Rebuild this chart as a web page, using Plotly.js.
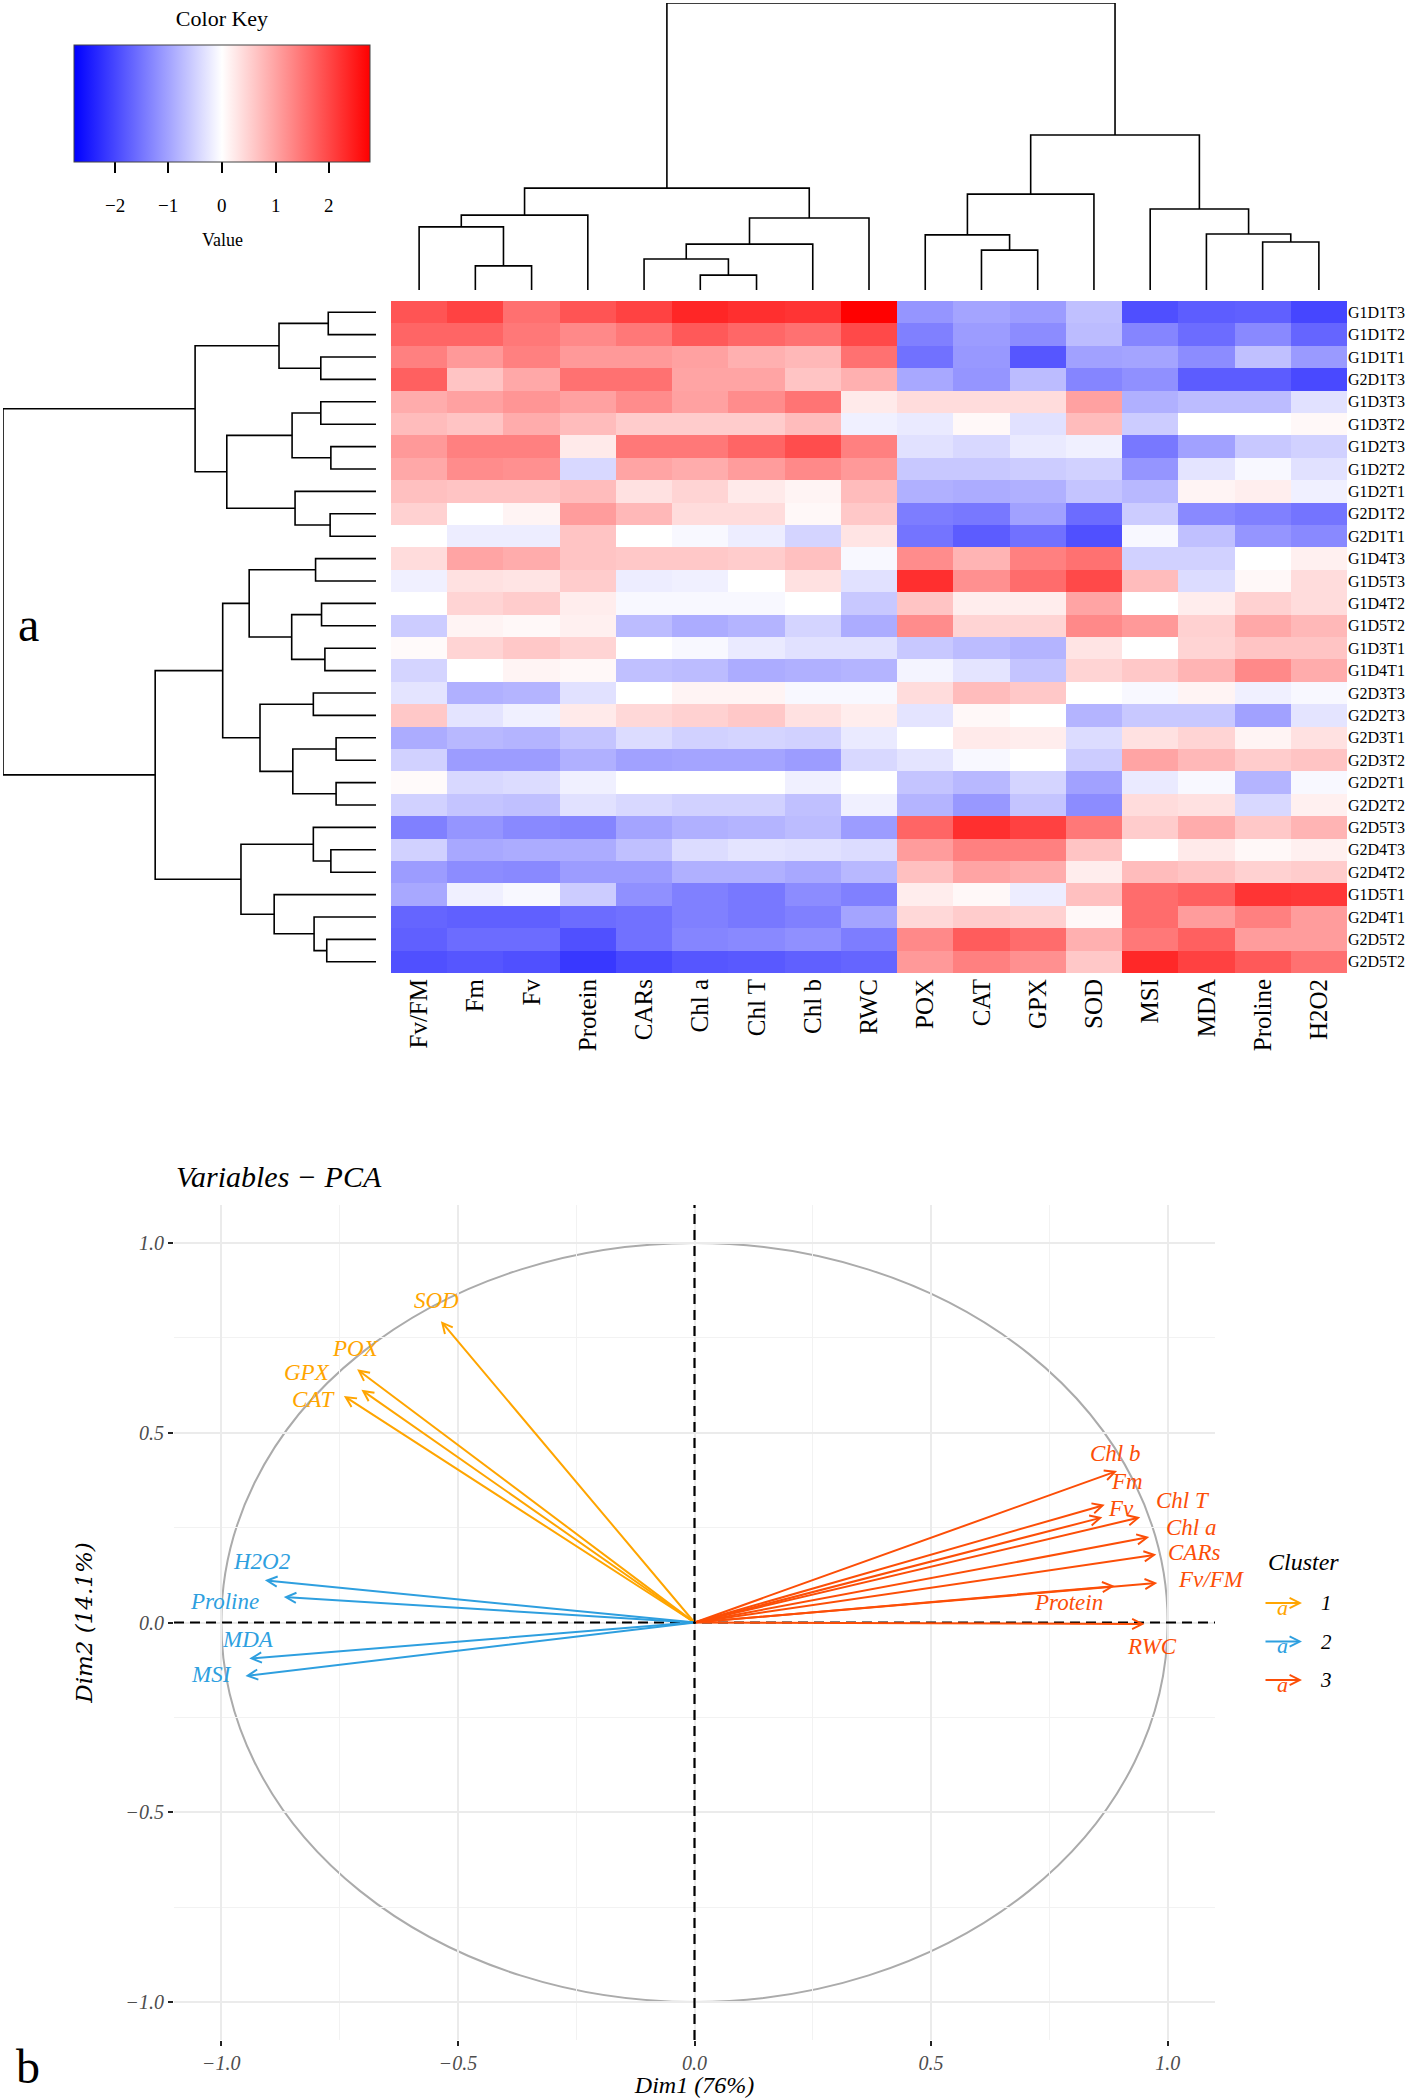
<!DOCTYPE html>
<html><head><meta charset="utf-8">
<script src="https://cdn.plot.ly/plotly-3.0.1.min.js"></script>
<style>html,body{margin:0;padding:0;background:#fff}#chart{width:1416px;height:2098px}</style>
</head><body><div id="chart"></div>
<script>
// ---------- Heatmap data ----------
const colLabels = ['Fv/FM','Fm','Fv','Protein','CARs','Chl a','Chl T','Chl b','RWC','POX','CAT','GPX','SOD','MSI','MDA','Proline','H2O2'];
const rowLabels = ['G1D1T3','G1D1T2','G1D1T1','G2D1T3','G1D3T3','G1D3T2','G1D2T3','G1D2T2','G1D2T1','G2D1T2','G2D1T1',
  'G1D4T3','G1D5T3','G1D4T2','G1D5T2','G1D3T1','G1D4T1','G2D3T3','G2D2T3','G2D3T1','G2D3T2','G2D2T1','G2D2T2',
  'G2D5T3','G2D4T3','G2D4T2','G1D5T1','G2D4T1','G2D5T2','G2D5T2'];
const keyTicks = [-2, -1, 0, 1, 2];

const row_G1D1T3 = [1.85, 2.05, 1.55, 1.85, 2.05, 2.35, 2.25, 2.2, 2.75, -1.15, -0.98, -1.07, -0.68, -1.9, -1.75, -1.72, -2.0];
const row_G1D1T2 = [1.67, 1.67, 1.46, 1.28, 1.46, 1.8, 1.65, 1.54, 1.97, -1.37, -1.07, -1.24, -0.72, -1.32, -1.59, -1.28, -1.67];
const row_G1D1T1 = [1.37, 1.1, 1.37, 1.1, 1.1, 1.02, 0.85, 0.77, 1.54, -1.54, -1.11, -1.83, -1.02, -0.98, -1.24, -0.68, -1.09];
const row_G2D1T3 = [1.72, 0.64, 0.94, 1.54, 1.54, 0.98, 0.98, 0.64, 0.85, -0.94, -1.15, -0.72, -1.32, -1.2, -1.76, -1.76, -1.97];
const row_G1D3T3 = [0.9, 1.02, 1.15, 1.02, 1.24, 1.02, 1.24, 1.5, 0.23, 0.38, 0.38, 0.38, 1.02, -0.85, -0.72, -0.72, -0.33];
const row_G1D3T2 = [0.72, 0.64, 0.9, 0.72, 0.55, 0.55, 0.55, 0.72, -0.16, -0.23, 0.08, -0.33, 0.72, -0.55, 0, 0, 0.08];
const row_G1D2T3 = [1.1, 1.37, 1.37, 0.23, 1.46, 1.46, 1.67, 1.93, 1.37, -0.33, -0.42, -0.23, -0.16, -1.46, -1.02, -0.6, -0.5];
const row_G1D2T2 = [0.94, 1.24, 1.2, -0.42, 0.98, 0.9, 1.07, 1.28, 1.1, -0.6, -0.6, -0.55, -0.5, -1.15, -0.29, -0.08, -0.33];
const row_G1D2T1 = [0.68, 0.64, 0.64, 0.72, 0.33, 0.47, 0.23, 0.12, 0.72, -0.85, -0.9, -0.85, -0.64, -0.77, 0.12, 0.18, -0.16];
const row_G2D1T2 = [0.5, 0, 0.12, 1.07, 0.77, 0.38, 0.38, 0.08, 0.6, -1.41, -1.46, -1.02, -1.59, -0.55, -1.28, -1.37, -1.5];
const row_G2D1T1 = [0, -0.2, -0.2, 0.64, 0, -0.08, -0.2, -0.47, 0.29, -1.5, -1.76, -1.54, -1.89, -0.08, -0.68, -1.15, -1.28];
const row_G1D4T3 = [0.38, 0.98, 0.9, 0.64, 0.6, 0.6, 0.55, 0.68, -0.08, 1.24, 0.81, 1.37, 1.54, -0.5, -0.5, 0, 0.16];
const row_G1D5T3 = [-0.16, 0.33, 0.29, 0.55, -0.2, -0.16, 0, 0.33, -0.33, 2.25, 1.2, 1.59, 1.97, 0.72, -0.38, 0.08, 0.38];
const row_G1D4T2 = [0, 0.47, 0.55, 0.2, -0.08, -0.08, -0.08, 0, -0.6, 0.64, 0.2, 0.2, 0.98, 0, 0.2, 0.5, 0.38];
const row_G1D5T2 = [-0.55, 0.12, 0.08, 0.16, -0.72, -0.9, -0.81, -0.47, -0.9, 1.24, 0.47, 0.47, 1.28, 1.1, 0.5, 0.94, 0.77];
const row_G1D3T1 = [0.05, 0.47, 0.6, 0.47, 0, -0.08, -0.23, -0.33, -0.33, -0.6, -0.72, -0.81, 0.29, 0, 0.47, 0.64, 0.64];
const row_G1D4T1 = [-0.47, 0, 0.12, 0.08, -0.68, -0.72, -0.9, -0.85, -0.81, -0.12, -0.29, -0.64, 0.47, 0.6, 0.81, 1.28, 0.9];
const row_G2D3T3 = [-0.29, -0.85, -0.81, -0.33, 0, 0.12, 0.12, -0.08, -0.08, 0.38, 0.72, 0.6, 0, -0.08, 0.12, -0.16, -0.08];
const row_G2D2T3 = [0.6, -0.29, -0.16, 0.23, 0.42, 0.5, 0.6, 0.33, 0.2, -0.29, 0.08, 0, -0.81, -0.6, -0.6, -1.02, -0.29];
const row_G2D3T1 = [-0.9, -0.77, -0.81, -0.64, -0.38, -0.5, -0.47, -0.5, -0.23, 0, 0.23, 0.2, -0.38, 0.33, 0.47, 0.12, 0.33];
const row_G2D3T2 = [-0.5, -1.07, -1.07, -0.85, -1.02, -0.98, -0.98, -1.07, -0.42, -0.29, -0.08, 0, -0.55, 0.98, 0.77, 0.55, 0.64];
const row_G2D2T1 = [0.05, -0.42, -0.38, -0.16, 0, 0, 0, -0.16, 0, -0.64, -0.77, -0.47, -1.02, -0.23, -0.08, -0.81, -0.08];
const row_G2D2T2 = [-0.5, -0.64, -0.68, -0.33, -0.42, -0.5, -0.5, -0.68, -0.16, -0.81, -1.11, -0.64, -1.24, 0.38, 0.33, -0.42, 0.16];
const row_G2D5T3 = [-1.37, -1.15, -1.28, -1.32, -0.98, -0.85, -0.81, -0.72, -1.07, 1.67, 2.25, 2.06, 1.46, 0.55, 0.9, 0.6, 0.81];
const row_G2D4T3 = [-0.5, -0.94, -0.9, -0.9, -0.68, -0.38, -0.29, -0.33, -0.38, 1.07, 1.37, 1.37, 0.64, 0, 0.23, 0.08, 0.16];
const row_G2D4T2 = [-1.07, -1.24, -1.28, -1.07, -1.07, -0.85, -0.85, -0.94, -0.77, 0.68, 0.98, 0.9, 0.2, 0.72, 0.64, 0.5, 0.55];
const row_G1D5T1 = [-0.94, -0.16, -0.08, -0.55, -1.2, -1.37, -1.46, -1.24, -1.37, 0.2, 0.08, -0.2, 0.68, 1.59, 1.72, 2.2, 2.15];
const row_G2D4T1 = [-1.67, -1.72, -1.72, -1.59, -1.54, -1.37, -1.46, -1.37, -0.98, 0.42, 0.55, 0.5, 0.08, 1.59, 1.07, 1.37, 1.07];
const row_G2D5T2a = [-1.72, -1.59, -1.59, -1.89, -1.54, -1.32, -1.28, -1.2, -1.41, 1.28, 1.76, 1.59, 0.85, 1.46, 1.72, 1.07, 1.07];
const row_G2D5T2b = [-1.89, -1.83, -1.89, -2.15, -1.97, -1.83, -1.8, -1.72, -1.67, 1.1, 1.37, 1.2, 0.6, 2.33, 2.06, 1.8, 1.54];

const heatRows = [row_G1D1T3,row_G1D1T2,row_G1D1T1,row_G2D1T3,row_G1D3T3,row_G1D3T2,row_G1D2T3,row_G1D2T2,row_G1D2T1,
  row_G2D1T2,row_G2D1T1,row_G1D4T3,row_G1D5T3,row_G1D4T2,row_G1D5T2,row_G1D3T1,row_G1D4T1,row_G2D3T3,row_G2D2T3,
  row_G2D3T1,row_G2D3T2,row_G2D2T1,row_G2D2T2,row_G2D5T3,row_G2D4T3,row_G2D4T2,row_G1D5T1,row_G2D4T1,row_G2D5T2a,row_G2D5T2b];

// Dendrogram merges (hclust style: negative = leaf index+1, positive = earlier merge), height
const colMerge = [
  [-6,-7,0.52],[-2,-3,0.84],[-5,1,1.08],[-11,-12,1.39],[3,-8,1.60],[-16,-17,1.67],[-10,4,1.92],[-15,6,1.95],
  [-1,2,2.20],[5,-9,2.51],[9,-4,2.61],[-14,8,2.82],[7,-13,3.34],[11,10,3.55],[13,12,5.40],[14,15,10]
];
const rowMerge = [
  [-1,-2,1.28],[-3,-4,1.48],[-5,-6,1.48],[-7,-8,1.21],[-10,-11,1.23],[-12,-13,1.62],[-14,-15,1.46],[-16,-17,1.37],
  [-18,-19,1.68],[-20,-21,1.07],[-22,-23,1.07],[-25,-26,1.21],[-29,-30,1.32],
  [1,2,2.60],[3,4,2.25],[-9,5,2.17],[15,16,4.00],[14,17,4.85],
  [7,8,2.26],[6,19,3.40],[10,11,2.23],[9,21,3.11],[20,22,4.11],
  [-24,12,1.68],[-28,13,1.66],[-27,25,2.73],[24,26,3.62],[23,27,5.92],[18,28,10]
];

// ---------- PCA data ----------
const pcaVars    = ['SOD','POX','GPX','CAT','H2O2','Proline','MDA','MSI','Chl b','Fm','Fv','Chl T','Chl a','CARs','Fv/FM','Protein','RWC'];
const pcaDim1    = [-0.536,-0.713,-0.704,-0.741,-0.908,-0.868,-0.941,-0.949,0.893,0.867,0.862,0.942,0.961,0.976,0.978,0.888,0.951];
const pcaDim2    = [0.794,0.667,0.613,0.597,0.111,0.067,-0.095,-0.141,0.399,0.310,0.277,0.277,0.225,0.179,0.104,0.096,-0.004];
const pcaCluster = [1,1,1,1,2,2,2,2,3,3,3,3,3,3,3,3,3];
const clusterNames = ['1','2','3'];

// ---------- styles / positions ----------
const W = 1416, H = 2098;
const px = v => v / W;
const py = v => 1 - v / H;
const clusterColors = ['#FFA500', '#2E9FDF', '#FC4E07'];
const labelOffsets = [[-4,-21],[-2,-21],[-54,-17],[-30,4],[-3,-19],[-59,4],[-1,-19],[-34,-2],
  [-2,-18],[22,-23],[19,-9],[43,-17],[42,-10],[38,-2],[54,-4],[-46,16],[7,22]];
const serif = 'Liberation Serif, Times New Roman, serif';
const zLim = 2.76;
const keyLeft = 74, keyWidth = 296;

function dendro(merge, orient) {
  const pos = [], hgt = [], xs = [], ys = [];
  const node = c => c < 0 ? {p: -c - 1, h: 0} : {p: pos[c - 1], h: hgt[c - 1]};
  merge.forEach((m, i) => {
    const a = node(m[0]), b = node(m[1]), h = m[2];
    pos[i] = (a.p + b.p) / 2; hgt[i] = h;
    const P = [a.p, a.p, b.p, b.p], Hh = [a.h, h, h, b.h];
    if (orient === 'v') { xs.push(...P, null); ys.push(...Hh, null); }
    else { xs.push(...Hh, null); ys.push(...P, null); }
  });
  return {x: xs, y: ys};
}

const colIdx = colLabels.map((_, i) => i);
const rowIdx = rowLabels.map((_, i) => i);
const cd = dendro(colMerge, 'v');
const rd = dendro(rowMerge, 'h');

const traces = [
  {
    type: 'heatmap', x: colIdx, y: rowIdx, z: heatRows, xaxis: 'x', yaxis: 'y',
    zmin: -zLim, zmax: zLim,
    colorscale: [[0, 'rgb(0,0,255)'], [0.5, 'rgb(255,255,255)'], [1, 'rgb(255,0,0)']],
    hoverinfo: 'skip',
    colorbar: {
      orientation: 'h', x: px(keyLeft + keyWidth / 2), xanchor: 'center', y: py(20), yanchor: 'top',
      len: keyWidth, lenmode: 'pixels', thickness: 117, thicknessmode: 'pixels',
      outlinewidth: 1, outlinecolor: '#444', xpad: 0, ypad: 0,
      tickvals: keyTicks, ticks: 'outside', ticklen: 11, tickwidth: 2, tickcolor: '#000',
      showticklabels: false,
      title: {text: 'Color Key', side: 'top', font: {family: serif, size: 22, color: '#000'}}
    }
  },
  {type: 'scatter', mode: 'lines', x: cd.x, y: cd.y, xaxis: 'x2', yaxis: 'y2',
   line: {color: '#000', width: 1.6}, hoverinfo: 'skip', showlegend: false},
  {type: 'scatter', mode: 'lines', x: rd.x, y: rd.y, xaxis: 'x3', yaxis: 'y3',
   line: {color: '#000', width: 1.6}, hoverinfo: 'skip', showlegend: false},
  {type: 'scatter', mode: 'markers', x: pcaDim1, y: pcaDim2, xaxis: 'x4', yaxis: 'y4',
   marker: {opacity: 0}, hoverinfo: 'skip', showlegend: false}
];

const annotations = [];
const tfont = (size, color, italic) => ({family: serif, size: size, color: color || '#000', style: italic ? 'italic' : 'normal'});

// color key tick labels
keyTicks.forEach(t => {
  annotations.push({xref: 'paper', yref: 'paper', x: px(keyLeft + keyWidth / 2 + t * keyWidth / (2 * zLim)), y: py(205),
    text: t < 0 ? '\u2212' + Math.abs(t) : String(t), showarrow: false, xanchor: 'center', yanchor: 'middle',
    font: tfont(19, '#000', false)});
});
annotations.push({xref: 'paper', yref: 'paper', x: px(keyLeft + keyWidth / 2), y: py(240), text: 'Value', showarrow: false,
  xanchor: 'center', yanchor: 'middle', font: tfont(18, '#000', false)});

pcaVars.forEach((v, i) => {
  const c = clusterColors[pcaCluster[i] - 1];
  annotations.push({xref: 'x4', yref: 'y4', axref: 'x4', ayref: 'y4', x: pcaDim1[i], y: pcaDim2[i], ax: 0, ay: 0,
    text: '', showarrow: true, arrowhead: 5, arrowsize: 1, arrowwidth: 2, arrowcolor: c, standoff: 0, startstandoff: 0});
});
pcaVars.forEach((v, i) => {
  const c = clusterColors[pcaCluster[i] - 1];
  annotations.push({xref: 'x4', yref: 'y4', x: pcaDim1[i], y: pcaDim2[i], text: v, showarrow: false,
    xshift: labelOffsets[i][0], yshift: -labelOffsets[i][1], xanchor: 'center', yanchor: 'middle',
    font: tfont(23, c, true)});
});

// legend (Cluster)
annotations.push({xref: 'paper', yref: 'paper', x: px(1303), y: py(1562), text: 'Cluster', showarrow: false,
  xanchor: 'center', yanchor: 'middle', font: tfont(24, '#000', true)});
clusterNames.forEach((n, k) => {
  const yy = 1603 + k * 38.5;
  annotations.push({xref: 'paper', yref: 'paper', x: px(1302), y: py(yy), ax: -38, ay: 0, text: '', showarrow: true,
    arrowhead: 5, arrowsize: 1, arrowwidth: 2, arrowcolor: clusterColors[k], standoff: 0});
  annotations.push({xref: 'paper', yref: 'paper', x: px(1282), y: py(yy + 4), text: 'a', showarrow: false,
    xanchor: 'center', yanchor: 'middle', font: tfont(22, clusterColors[k], true)});
  annotations.push({xref: 'paper', yref: 'paper', x: px(1326), y: py(yy), text: n, showarrow: false,
    xanchor: 'center', yanchor: 'middle', font: tfont(21, '#000', true)});
});

// titles / panel letters
annotations.push({xref: 'paper', yref: 'paper', x: px(174), y: py(1176), text: 'Variables \u2212 PCA', showarrow: false,
  xanchor: 'left', yanchor: 'middle', font: tfont(30, '#000', true)});
annotations.push({xref: 'paper', yref: 'paper', x: px(28), y: py(625), text: 'a', showarrow: false,
  xanchor: 'center', yanchor: 'middle', font: tfont(48, '#000', false)});
annotations.push({xref: 'paper', yref: 'paper', x: px(28), y: py(2066), text: 'b', showarrow: false,
  xanchor: 'center', yanchor: 'middle', font: tfont(48, '#000', false)});

const shapes = [
  {type: 'circle', xref: 'x4', yref: 'y4', x0: -1, y0: -1, x1: 1, y1: 1, line: {color: '#ababab', width: 2}, layer: 'below'},
  {type: 'line', xref: 'x4', yref: 'y4', x0: -1.1, x1: 1.1, y0: 0, y1: 0, line: {color: '#000', width: 2.2, dash: '10px,6px'}, layer: 'above'},
  {type: 'line', xref: 'x4', yref: 'y4', x0: 0, x1: 0, y0: -1.1, y1: 1.1, line: {color: '#000', width: 2.2, dash: '10px,6px'}, layer: 'above'}
];

const hidden = {visible: false, showgrid: false, zeroline: false, fixedrange: true};
const pcaAxis = (dom, anchor) => ({
  domain: dom, anchor: anchor, range: [-1.1, 1.1], zeroline: false, showline: false,
  tickvals: [-1, -0.5, 0, 0.5, 1], tickformat: '.1f', ticks: 'outside', ticklen: 5, tickwidth: 2, tickcolor: '#222',
  tickfont: tfont(20, '#4d4d4d', true), showgrid: true, gridcolor: '#ebebeb', gridwidth: 2,
  minor: {tickvals: [-0.75, -0.25, 0.25, 0.75], showgrid: true, gridcolor: '#f2f2f2', gridwidth: 1, ticks: ''}
});

const layout = {
  width: W, height: H, margin: {l: 0, r: 0, t: 0, b: 0}, paper_bgcolor: '#fff', plot_bgcolor: 'rgba(0,0,0,0)',
  showlegend: false, font: {family: serif, color: '#000'},
  xaxis: {domain: [px(391), px(1347)], anchor: 'y', range: [-0.5, 16.5], tickvals: colIdx, ticktext: colLabels,
    tickangle: -90, ticks: '', showgrid: false, zeroline: false, showline: false, tickfont: tfont(25, '#000', false)},
  yaxis: {domain: [py(973), py(301)], anchor: 'x', range: [29.5, -0.5], tickvals: rowIdx, ticktext: rowLabels,
    side: 'right', ticks: '', showgrid: false, zeroline: false, showline: false, tickfont: tfont(16, '#000', false)},
  xaxis2: Object.assign({domain: [px(391), px(1347)], anchor: 'y2', range: [-0.5, 16.5]}, hidden),
  yaxis2: Object.assign({domain: [py(290), py(3)], anchor: 'x2', range: [0, 10]}, hidden),
  xaxis3: Object.assign({domain: [px(3), px(376)], anchor: 'y3', range: [10, 0]}, hidden),
  yaxis3: Object.assign({domain: [py(973), py(301)], anchor: 'x3', range: [29.5, -0.5]}, hidden),
  xaxis4: Object.assign(pcaAxis([px(174), px(1215)], 'y4'),
    {title: {text: 'Dim1 (76%)', font: tfont(24, '#000', true), standoff: 6}}),
  yaxis4: Object.assign(pcaAxis([py(2040), py(1205)], 'x4'),
    {title: {text: 'Dim2 (14.1%)', font: {family: 'DejaVu Serif, serif', size: 23, color: '#000', style: 'italic'}, standoff: 26}}),
  annotations: annotations, shapes: shapes
};

Plotly.newPlot('chart', traces, layout, {staticPlot: true, displayModeBar: false});
</script></body></html>
